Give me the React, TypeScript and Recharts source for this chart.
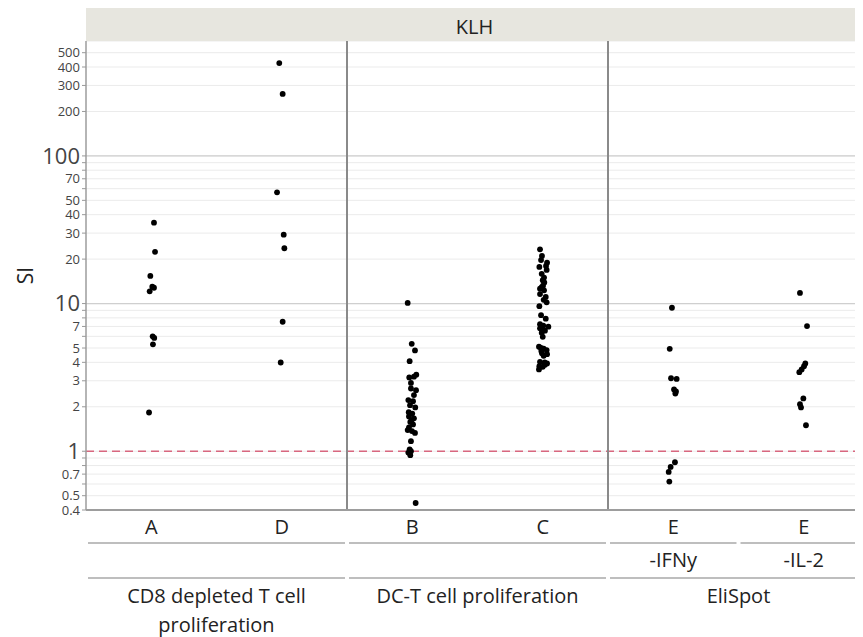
import React from 'react';
import { ScatterChart, Scatter, XAxis, YAxis, CartesianGrid, ReferenceLine } from 'recharts';

// ---------- data ----------
const panelTitle = 'KLH';
const yAxisLabel = 'SI';
const categories = ['A', 'D', 'B', 'C', 'E', 'E'];
const subLabels = ['', '', '', '', '-IFNy', '-IL-2'];
const groupLabels = [['CD8 depleted T cell', 'proliferation'], ['DC-T cell proliferation'], ['EliSpot']];
const groupStart = [0, 2, 4];
const groupSplitFirstRow = [false, false, true];

const yTicks = [0.4, 0.5, 0.6, 0.7, 0.8, 0.9, 1, 2, 3, 4, 5, 6, 7, 8, 9, 10, 20, 30, 40, 50, 60, 70, 80, 90, 100, 200, 300, 400, 500];
const yLabeled = [0.4, 0.5, 0.7, 1, 2, 3, 4, 5, 7, 10, 20, 30, 40, 50, 70, 100, 200, 300, 400, 500];
const yMajor = [1, 10, 100];
const referenceValue = 1;

const valuesA = [35.3, 22.4, 15.4, 13.0, 12.8, 12.1, 6.0, 5.85, 5.3, 1.83];
const jitterA = [0.021, 0.029, -0.007, 0.008, 0.021, -0.012, 0.011, 0.023, 0.013, -0.017];

const valuesD = [425, 263, 56.7, 29.3, 23.7, 7.53, 3.99];
const jitterD = [-0.019, 0.007, -0.036, 0.015, 0.02, 0.007, -0.008];

const valuesB = [10.1, 5.34, 4.82, 4.07, 3.3, 3.2, 3.16, 2.9, 2.66, 2.59, 2.4, 2.22, 2.18, 2.05, 1.98, 1.84, 1.8, 1.72, 1.67, 1.62, 1.58, 1.52, 1.45, 1.39, 1.37, 1.33, 1.17, 1.03, 1.0, 0.98, 0.94, 0.446];
const jitterB = [-0.035, -0.004, 0.021, -0.02, 0.031, 0.013, -0.023, -0.01, -0.01, 0.029, 0.013, -0.03, 0.006, -0.017, 0.023, -0.027, 0, -0.025, 0.013, -0.006, -0.015, 0.006, -0.025, -0.035, -0.002, 0.021, -0.01, -0.02, -0.01, -0.03, -0.015, 0.026];

const valuesC = [23.3, 21.0, 19.7, 18.9, 18.0, 17.7, 16.9, 15.9, 15.0, 14.4, 13.9, 13.2, 12.9, 12.6, 12.3, 11.6, 11.1, 10.6, 10.2, 9.6, 8.35, 7.9, 7.25, 7.1, 7.0, 6.97, 6.8, 6.65, 6.55, 6.35, 5.95, 5.1, 5.0, 4.96, 4.84, 4.78, 4.6, 4.54, 4.43, 4.03, 3.99, 3.93, 3.85, 3.77, 3.73, 3.58];
const jitterC = [-0.021, -0.006, -0.013, 0.033, 0.025, -0.026, 0.03, -0.008, 0.01, 0, 0.012, 0.002, -0.008, -0.021, 0.01, -0.021, 0.023, 0.007, 0.03, -0.026, -0.013, 0.023, -0.021, 0.004, -0.006, 0.043, -0.021, 0.002, 0.017, -0.008, 0, -0.029, -0.013, 0.007, 0.03, -0.011, -0.006, 0.033, 0.007, -0.021, 0.015, 0.033, 0.017, -0.026, 0, -0.029];

const valuesE1 = [9.37, 4.94, 3.12, 3.09, 2.62, 2.54, 2.46, 0.842, 0.783, 0.724, 0.623];
const jitterE1 = [-0.01, -0.027, -0.017, 0.026, 0.006, 0.021, 0.016, 0.013, -0.02, -0.035, -0.03];

const valuesE2 = [11.8, 7.04, 3.93, 3.77, 3.58, 3.43, 2.28, 2.08, 1.98, 1.5];
const jitterE2 = [-0.029, 0.025, 0.012, 0.002, -0.016, -0.034, -0.003, -0.029, -0.021, 0.017];

const seriesValues = [valuesA, valuesD, valuesB, valuesC, valuesE1, valuesE2];
const seriesJitter = [jitterA, jitterD, jitterB, jitterC, jitterE1, jitterE2];

const points = seriesValues.flatMap((vals, i) =>
  vals.map((v, k) => ({ x: i + 0.5 + seriesJitter[i][k], y: v }))
);
const xTicks = categories.map((_, i) => i + 0.5);

// ---------- layout ----------
const W = 855;
const H = 629;
const Y_W = 78;
const TOP = 33;
const X_H = 127;
const X_MAX = 5.954;
const PLOT_W = W - Y_W;
const FONT = "'Open Sans', 'Noto Sans', sans-serif";
const LINE_COLOR = '#a9a9a9';
const X_FONT = 20;

const XTick = (props: any) => {
  const { x, y, payload } = props;
  const i = Math.round(payload.value - 0.5);
  const cw = PLOT_W / X_MAX;
  let g = 0;
  for (let k = 0; k < groupStart.length; k++) if (i >= groupStart[k]) g = k;
  const first = groupStart[g] === i;
  const gEnd = g + 1 < groupStart.length ? groupStart[g + 1] : categories.length;
  const span = gEnd - groupStart[g];
  return (
    <g>
      <text x={x} y={y + 24} textAnchor="middle" fontSize={X_FONT} fill="#222" fontFamily={FONT}>
        {categories[i]}
      </text>
      {subLabels[i] ? (
        <text x={x} y={y + 57} textAnchor="middle" fontSize={X_FONT} fill="#222" fontFamily={FONT}>
          {subLabels[i]}
        </text>
      ) : null}
      {groupSplitFirstRow[g] ? (
        <line x1={x - cw / 2 + 2} x2={x + cw / 2 - 2} y1={y + 33} y2={y + 33} stroke={LINE_COLOR} strokeWidth={1.5} />
      ) : null}
      {first && !groupSplitFirstRow[g] ? (
        <line x1={x - cw / 2 + 2} x2={x - cw / 2 + cw * span - 2} y1={y + 33} y2={y + 33} stroke={LINE_COLOR} strokeWidth={1.5} />
      ) : null}
      {first ? (
        <line x1={x - cw / 2 + 2} x2={x - cw / 2 + cw * span - 2} y1={y + 68} y2={y + 68} stroke={LINE_COLOR} strokeWidth={1.5} />
      ) : null}
      {first
        ? groupLabels[g].map((t, k) => (
            <text key={k} x={x - cw / 2 + (cw * span) / 2} y={y + 93 + 29 * k} textAnchor="middle" fontSize={X_FONT} fill="#222" fontFamily={FONT}>
              {t}
            </text>
          ))
        : null}
    </g>
  );
};

const YTick = (props: any) => {
  const { x, y, payload } = props;
  const v = payload.value;
  if (!yLabeled.includes(v)) return <g />;
  const big = yMajor.includes(v);
  return (
    <text x={x} y={y} dy="0.35em" textAnchor="end" fontSize={big ? 22 : 13} fill="#444" fontFamily={FONT}>
      {String(v)}
    </text>
  );
};

const YLabel = (props: any) => {
  const vb = props.viewBox || { x: 0, y: TOP, width: Y_W, height: H - TOP - X_H };
  const cx = vb.x + 17;
  const cy = vb.y + vb.height / 2;
  return (
    <text x={cx} y={cy} transform={`rotate(-90 ${cx} ${cy})`} textAnchor="middle" dominantBaseline="central" fontSize={21} fill="#222" fontFamily={FONT}>
      {yAxisLabel}
    </text>
  );
};

const Dot = (props: any) => <circle cx={props.cx} cy={props.cy} r={2.9} fill="#000" />;

export default function App() {
  return (
    <div style={{ position: 'relative', width: W, height: H }}>
      <ScatterChart width={W} height={H} margin={{ top: TOP, right: 0, bottom: 0, left: 0 }}>
        <CartesianGrid horizontal={true} vertical={false} stroke="#ebebeb" strokeWidth={1} />
        <XAxis
          type="number"
          dataKey="x"
          domain={[0, X_MAX]}
          ticks={xTicks}
          interval={0}
          allowDataOverflow
          height={X_H}
          tickSize={0}
          tickMargin={0}
          tickLine={false}
          axisLine={{ stroke: '#9d9d9d', strokeWidth: 2 }}
          tick={<XTick />}
        />
        <YAxis
          type="number"
          dataKey="y"
          scale="log"
          domain={[0.4, 600]}
          ticks={yTicks}
          interval={0}
          allowDataOverflow
          width={Y_W}
          tickSize={4}
          tickMargin={2}
          tickLine={{ stroke: '#999' }}
          axisLine={{ stroke: '#9d9d9d', strokeWidth: 1.5 }}
          tick={<YTick />}
          label={{ content: <YLabel /> } as any}
        />
        {yMajor.filter((v) => v !== referenceValue).map((v) => (
          <ReferenceLine key={v} y={v} stroke="#cfcfcf" strokeWidth={1.2} />
        ))}
        <ReferenceLine y={referenceValue} stroke="#d8677f" strokeWidth={1.3} strokeDasharray="8 5" />
        {groupStart.slice(1).map((s) => (
          <ReferenceLine key={s} x={s} stroke="#8a8a8a" strokeWidth={2} />
        ))}
        <Scatter data={points} shape={<Dot />} isAnimationActive={false} />
      </ScatterChart>
      <div
        style={{
          position: 'absolute',
          left: Y_W,
          top: 0,
          width: PLOT_W,
          height: TOP,
          background: '#e7e6df',
          color: '#222',
          fontFamily: FONT,
          fontSize: 20,
          lineHeight: `${TOP + 4}px`,
          textAlign: 'center',
        }}
      >
        {panelTitle}
      </div>
    </div>
  );
}
